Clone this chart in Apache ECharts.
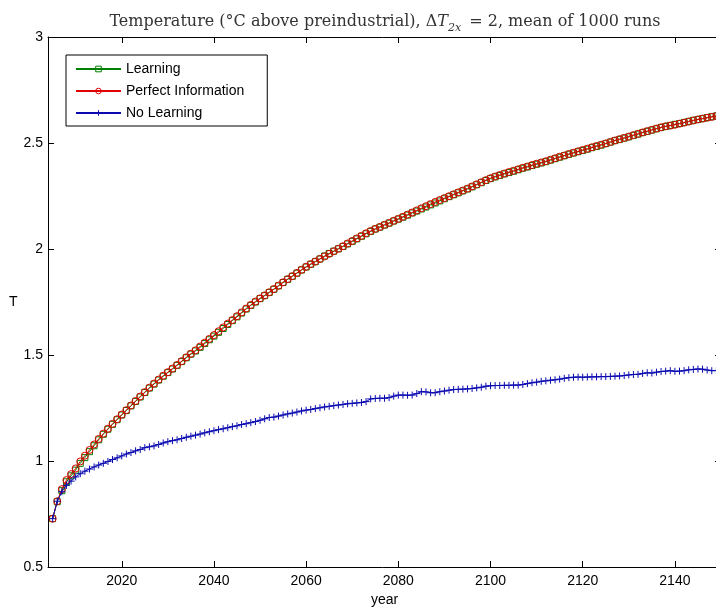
<!DOCTYPE html>
<html>
<head>
<meta charset="utf-8">
<script src="https://cdn.jsdelivr.net/npm/echarts@6/dist/echarts.min.js"></script>
<style>
  html, body { margin: 0; padding: 0; background: #fff; }
  #chart { width: 716px; height: 607px; }
</style>
</head>
<body>
<div id="chart"></div>
<script>
// Simulation years, one point per year
const firstYear = 2005;
const lastYear = 2149;

// Mean temperature (°C above preindustrial) per year, 2005–2149
const learning = [
  0.728, 0.808, 0.860, 0.902, 0.930, 0.957, 0.989, 1.016, 1.044, 1.072,
  1.100, 1.126, 1.150, 1.173, 1.195, 1.217, 1.238, 1.260, 1.281, 1.302,
  1.323, 1.344, 1.363, 1.382, 1.400, 1.417, 1.434, 1.451, 1.469, 1.487,
  1.504, 1.519, 1.536, 1.554, 1.572, 1.589, 1.607, 1.625, 1.644, 1.662,
  1.680, 1.698, 1.717, 1.734, 1.750, 1.766, 1.780, 1.795, 1.810, 1.826,
  1.842, 1.857, 1.871, 1.886, 1.901, 1.915, 1.928, 1.940, 1.953, 1.967,
  1.979, 1.990, 2.001, 2.012, 2.024, 2.036, 2.048, 2.060, 2.072, 2.083,
  2.094, 2.103, 2.113, 2.122, 2.132, 2.141, 2.150, 2.160, 2.170, 2.179,
  2.189, 2.198, 2.208, 2.217, 2.227, 2.237, 2.247, 2.256, 2.265, 2.274,
  2.283, 2.293, 2.303, 2.313, 2.323, 2.332, 2.340, 2.347, 2.354, 2.361,
  2.367, 2.374, 2.381, 2.387, 2.394, 2.400, 2.406, 2.412, 2.419, 2.426,
  2.433, 2.440, 2.447, 2.453, 2.459, 2.465, 2.471, 2.478, 2.484, 2.490,
  2.497, 2.504, 2.511, 2.517, 2.523, 2.529, 2.536, 2.542, 2.549, 2.555,
  2.561, 2.567, 2.573, 2.578, 2.583, 2.588, 2.592, 2.597, 2.602, 2.607,
  2.611, 2.615, 2.620, 2.624, 2.628
];

const perfectInfo = [
  0.728, 0.810, 0.867, 0.910, 0.938, 0.965, 0.998, 1.025, 1.052, 1.078,
  1.104, 1.129, 1.152, 1.175, 1.197, 1.219, 1.240, 1.262, 1.283, 1.304,
  1.325, 1.346, 1.365, 1.384, 1.402, 1.419, 1.436, 1.453, 1.471, 1.489,
  1.506, 1.522, 1.540, 1.558, 1.576, 1.594, 1.612, 1.630, 1.648, 1.665,
  1.683, 1.701, 1.719, 1.736, 1.752, 1.767, 1.781, 1.796, 1.811, 1.827,
  1.843, 1.858, 1.872, 1.887, 1.902, 1.916, 1.929, 1.941, 1.953, 1.965,
  1.977, 1.989, 2.001, 2.013, 2.026, 2.038, 2.050, 2.062, 2.074, 2.085,
  2.095, 2.104, 2.114, 2.123, 2.133, 2.142, 2.152, 2.162, 2.172, 2.182,
  2.192, 2.202, 2.212, 2.222, 2.231, 2.240, 2.249, 2.258, 2.267, 2.276,
  2.285, 2.295, 2.305, 2.315, 2.325, 2.334, 2.342, 2.349, 2.356, 2.363,
  2.369, 2.376, 2.383, 2.389, 2.396, 2.402, 2.408, 2.414, 2.421, 2.428,
  2.435, 2.441, 2.448, 2.454, 2.461, 2.467, 2.473, 2.480, 2.486, 2.492,
  2.498, 2.505, 2.512, 2.518, 2.524, 2.530, 2.537, 2.543, 2.550, 2.556,
  2.562, 2.568, 2.574, 2.579, 2.582, 2.586, 2.591, 2.596, 2.601, 2.606,
  2.611, 2.615, 2.619, 2.623, 2.627
];

const noLearning = [
  0.728, 0.810, 0.855, 0.885, 0.905, 0.925, 0.940, 0.952, 0.962, 0.972,
  0.981, 0.989, 0.998, 1.007, 1.015, 1.024, 1.033, 1.040, 1.048, 1.054,
  1.063, 1.067, 1.071, 1.078, 1.085, 1.091, 1.096, 1.100, 1.106, 1.112,
  1.117, 1.122, 1.127, 1.133, 1.138, 1.143, 1.148, 1.152, 1.157, 1.162,
  1.166, 1.172, 1.176, 1.181, 1.186, 1.192, 1.199, 1.205, 1.207, 1.212,
  1.217, 1.222, 1.226, 1.231, 1.236, 1.240, 1.243, 1.247, 1.251, 1.255,
  1.258, 1.261, 1.264, 1.267, 1.270, 1.272, 1.274, 1.276, 1.280, 1.293,
  1.295, 1.296, 1.296, 1.299, 1.306, 1.311, 1.311, 1.310, 1.311, 1.318,
  1.327, 1.326, 1.322, 1.322, 1.327, 1.330, 1.334, 1.337, 1.338, 1.339,
  1.340, 1.342, 1.345, 1.348, 1.353, 1.355, 1.356, 1.356, 1.357, 1.357,
  1.358, 1.358, 1.361, 1.365, 1.369, 1.372, 1.376, 1.378, 1.381, 1.383,
  1.386, 1.390, 1.393, 1.395, 1.396, 1.395, 1.396, 1.397, 1.397, 1.398,
  1.398, 1.399, 1.400, 1.401, 1.403, 1.406, 1.408, 1.409, 1.413, 1.416,
  1.415, 1.419, 1.422, 1.424, 1.426, 1.423, 1.424, 1.426, 1.430, 1.432,
  1.434, 1.433, 1.429, 1.426, 1.427
];

// Axis ticks
const xTicks = [2020, 2040, 2060, 2080, 2100, 2120, 2140];
const xRange = [2004, 2150];
const yRange = [0.5, 3];
const yStep = 0.5;

const years = [];
for (let y = firstYear; y <= lastYear; y++) years.push(y);
const pairs = vals => years.map((yr, i) => [yr, vals[i]]);

const FONT = '"Liberation Sans", Arial, Helvetica, sans-serif';
const SERIF = '"DejaVu Serif", "Liberation Serif", serif';
const PLUS = 'path://M0,5L10,5M5,0L5,10';

const chart = echarts.init(document.getElementById('chart'), null, { renderer: 'canvas' });

const axisCommon = {
  axisLine: { show: true, onZero: false, lineStyle: { color: '#000', width: 1 } },
  splitLine: { show: false }
};
const tickFont = { fontFamily: FONT, fontSize: 14, color: '#000' };
const titleColor = '#333';

chart.setOption({
  animation: false,
  backgroundColor: '#fff',
  title: {
    text: '{a|Temperature (°C above preindustrial), Δ}{i|T}{s|2x}{a| = 2, mean of 1000 runs}',
    left: 380, top: 9, textAlign: 'center',
    textStyle: {
      fontWeight: 'normal',
      rich: {
        a: { fontFamily: SERIF, fontSize: 16, fontWeight: 'normal', color: titleColor, verticalAlign: 'top', lineHeight: 19 },
        i: { fontFamily: SERIF, fontSize: 16, fontWeight: 'normal', fontStyle: 'italic', color: titleColor, verticalAlign: 'top', lineHeight: 19 },
        s: { fontFamily: SERIF, fontSize: 11, fontWeight: 'normal', fontStyle: 'italic', color: titleColor, verticalAlign: 'top', lineHeight: 11, padding: [9, 3, 0, 0] }
      }
    }
  },
  grid: { left: 48, top: 37, width: 673, height: 530, containLabel: false, outerBoundsMode: 'none' },
  legend: {
    orient: 'vertical',
    left: 66, top: 55,
    backgroundColor: '#fff',
    borderColor: '#000', borderWidth: 1,
    padding: [7, 23, 6, 9],
    itemGap: 8,
    itemWidth: 45, itemHeight: 7,
    itemStyle: { color: 'rgba(0,0,0,0)', borderWidth: 1 },
    textStyle: { fontFamily: FONT, fontSize: 14, color: '#000' },
    data: ['Learning', 'Perfect Information', 'No Learning']
  },
  xAxis: [
    Object.assign({
      type: 'value', min: xRange[0], max: xRange[1], position: 'bottom',
      name: 'year', nameLocation: 'middle', nameGap: 26,
      nameTextStyle: tickFont,
      axisTick: { show: true, inside: true, length: 6, customValues: xTicks, lineStyle: { color: '#000' } },
      axisLabel: Object.assign({ show: true, customValues: xTicks, margin: 7, formatter: v => String(v) }, tickFont)
    }, axisCommon),
    Object.assign({
      type: 'value', min: xRange[0], max: xRange[1], position: 'top',
      axisTick: { show: true, inside: true, length: 6, customValues: xTicks, lineStyle: { color: '#000' } },
      axisLabel: { show: false }
    }, axisCommon)
  ],
  yAxis: [
    Object.assign({
      type: 'value', min: yRange[0], max: yRange[1], interval: yStep, position: 'left',
      name: 'T', nameLocation: 'middle', nameRotate: 0, nameGap: 30,
      nameTextStyle: tickFont,
      axisTick: { show: true, inside: true, length: 6, lineStyle: { color: '#000' } },
      axisLabel: Object.assign({ show: true, margin: 5 }, tickFont)
    }, axisCommon),
    Object.assign({
      type: 'value', min: yRange[0], max: yRange[1], interval: yStep, position: 'right',
      axisTick: { show: true, inside: true, length: 6, lineStyle: { color: '#000' } },
      axisLabel: { show: false }
    }, axisCommon)
  ],
  series: [
    {
      name: 'Learning', type: 'line', data: pairs(learning),
      symbol: 'rect', symbolSize: 6, showAllSymbol: true,
      lineStyle: { color: '#008000', width: 1 },
      itemStyle: { color: 'transparent', borderColor: '#008000', borderWidth: 1 },
      z: 2
    },
    {
      name: 'Perfect Information', type: 'line', data: pairs(perfectInfo),
      symbol: 'circle', symbolSize: 7, showAllSymbol: true,
      lineStyle: { color: '#e00000', width: 1 },
      itemStyle: { color: 'transparent', borderColor: '#e00000', borderWidth: 1 },
      z: 3
    },
    {
      name: 'No Learning', type: 'line', data: pairs(noLearning),
      symbol: PLUS, symbolSize: 7, showAllSymbol: true,
      lineStyle: { color: '#0a0ab0', width: 1 },
      itemStyle: { color: 'transparent', borderColor: '#0a0ab0', borderWidth: 1 },
      z: 4
    }
  ]
});
</script>
</body>
</html>
